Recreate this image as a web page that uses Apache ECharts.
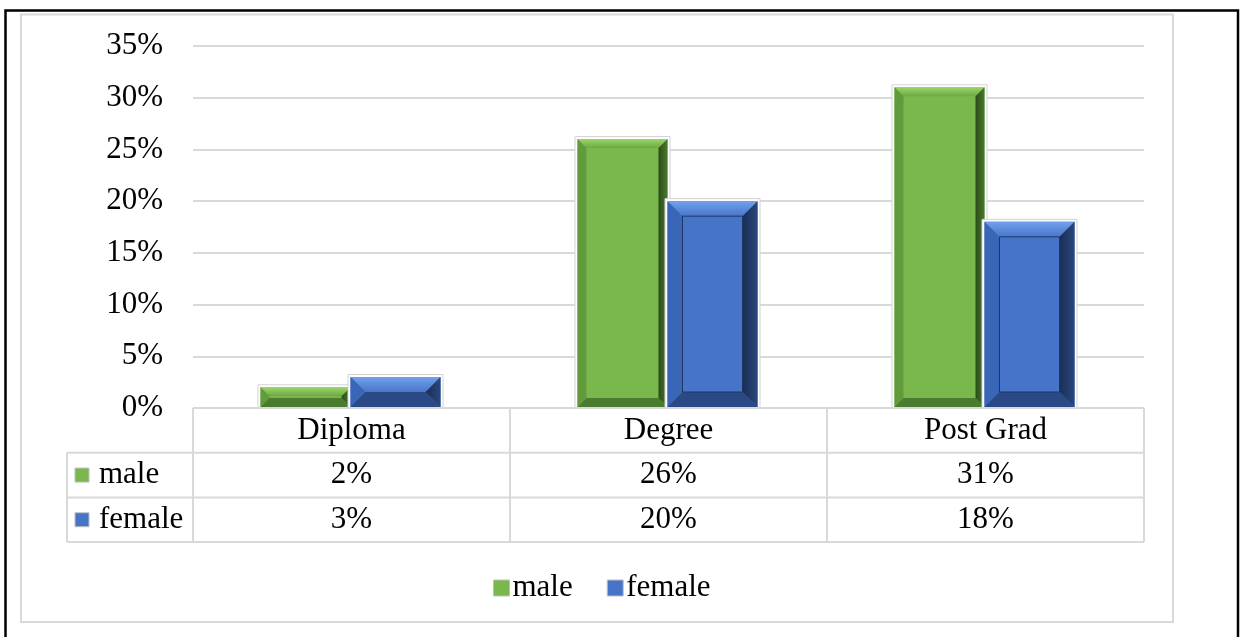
<!DOCTYPE html>
<html><head><meta charset="utf-8">
<script src="https://cdn.jsdelivr.net/npm/echarts@6/dist/echarts.min.js"></script>
<style>html,body{margin:0;padding:0;background:#fff}#c{width:1240px;height:637px}</style>
</head><body><div id="c"></div>
<script>
const categories = ['Diploma', 'Degree', 'Post Grad'];
const seriesNames = ['male', 'female'];
const maleValues = [2, 26, 31];
const femaleValues = [3, 20, 18];
const yTicks = [0, 5, 10, 15, 20, 25, 30, 35];

const FONT = '"Liberation Serif", "Times New Roman", serif';
const FS = 31;
const palettes = [
  { face: '#7ab74c', top: ['#9ad66a', '#6ea742'], left: '#619b3b', right: ['#4a7b2d', '#2c4b1a'], bottom: '#4b7b2f', bevel: 9, inner: null },
  { face: '#4674c8', top: ['#72a0ec', '#4877cb'], left: '#3a66b8', right: ['#29477d', '#1a2e55'], bottom: '#2b4984', bevel: 15, inner: '#1f3762' }
];
const seriesValues = [maleValues, femaleValues];

function lg(x, y, x2, y2, c0, c1) {
  return { type: 'linear', x: x, y: y, x2: x2, y2: y2, colorStops: [{ offset: 0, color: c0 }, { offset: 1, color: c1 }] };
}

function makeRender(si) {
  return function (params, api) {
    const ci = api.value(0), v = api.value(1);
    const c = api.coord([ci, 0]);
    const t = api.coord([ci, v]);
    const band = api.size([1, 0])[0];
    const w = band * 0.284;
    const x0 = si === 0 ? c[0] - w - 1 : c[0] - 1;
    const x1 = x0 + w;
    const y0 = t[1], y1 = c[1] - 1;
    const h = y1 - y0;
    const p = palettes[si];
    const b = Math.min(p.bevel, h / 2, w / 2);
    const ch = [];
    ch.push({ type: 'rect', shape: { x: x0 - 2.5, y: y0 - 2.5, width: w + 5, height: h + 3.5 }, style: { fill: '#ffffff', stroke: '#d2d2d2', lineWidth: 1 } });
    ch.push({ type: 'rect', shape: { x: x0, y: y0, width: w, height: h }, style: { fill: p.face } });
    ch.push({ type: 'polygon', shape: { points: [[x0, y0], [x1, y0], [x1 - b, y0 + b], [x0 + b, y0 + b]] }, style: { fill: lg(0, 0, 0, 1, p.top[0], p.top[1]) } });
    ch.push({ type: 'polygon', shape: { points: [[x0, y0], [x0 + b, y0 + b], [x0 + b, y1 - b], [x0, y1]] }, style: { fill: p.left } });
    ch.push({ type: 'polygon', shape: { points: [[x1, y0], [x1, y1], [x1 - b, y1 - b], [x1 - b, y0 + b]] }, style: { fill: lg(1, 0, 0, 0, p.right[0], p.right[1]) } });
    ch.push({ type: 'polygon', shape: { points: [[x0, y1], [x0 + b, y1 - b], [x1 - b, y1 - b], [x1, y1]] }, style: { fill: p.bottom } });
    if (p.inner && h > 2 * b + 2) {
      ch.push({ type: 'rect', shape: { x: x0 + b, y: y0 + b, width: w - 2 * b, height: h - 2 * b }, style: { fill: 'none', stroke: p.inner, lineWidth: 1 } });
    }
    return { type: 'group', children: ch };
  };
}

const chart = echarts.init(document.getElementById('c'), null, { renderer: 'canvas' });

const option = {
  animation: false,
  backgroundColor: '#ffffff',
  textStyle: { fontFamily: FONT },
  grid: { left: 193, right: 96, top: 46, bottom: 229 },
  legend: {
    data: seriesNames,
    left: 488, top: 567,
    icon: 'rect', itemWidth: 16, itemHeight: 16, itemGap: 34,
    itemStyle: { borderColor: '#bfbfbf', borderWidth: 1 },
    textStyle: { fontFamily: FONT, fontSize: FS, color: '#000', lineHeight: 32, padding: [0, 0, 0, -2] }
  },
  xAxis: {
    type: 'category', data: categories,
    axisLine: { show: false }, axisTick: { show: false },
    axisLabel: { fontFamily: FONT, fontSize: FS, color: '#000', margin: 23, verticalAlign: 'middle' }
  },
  yAxis: {
    type: 'value', min: yTicks[0], max: yTicks[yTicks.length - 1], interval: 5,
    axisLine: { show: false }, axisTick: { show: false },
    splitLine: { lineStyle: { color: '#d9d9d9', width: 2 } },
    axisLabel: { fontFamily: FONT, fontSize: FS, color: '#000', margin: 30, formatter: '{value}%' }
  },
  series: seriesNames.map((n, si) => ({
    name: n, type: 'custom',
    itemStyle: { color: palettes[si].face },
    renderItem: makeRender(si),
    encode: { x: 0, y: 1 },
    data: seriesValues[si].map((v, i) => [i, v])
  }))
};
chart.setOption(option);

// Table & frames
const cx = categories.map((c, i) => chart.convertToPixel({ xAxisIndex: 0 }, i));
const band = cx[1] - cx[0];
const yBase = chart.convertToPixel({ yAxisIndex: 0 }, 0);
const left0 = cx[0] - band / 2;
const right0 = cx[cx.length - 1] + band / 2;
const rowH = 44.7;
const tableLeft = 67;
const lineStyle = { stroke: '#d9d9d9', lineWidth: 2 };
const g = [];
g.push({ type: 'rect', shape: { x: 5.5, y: 10.5, width: 1232.5, height: 640 }, style: { fill: 'none', stroke: '#000', lineWidth: 2.5 }, z: 100 });
g.push({ type: 'rect', shape: { x: 21, y: 14.5, width: 1152, height: 607.5 }, style: { fill: 'none', stroke: '#d9d9d9', lineWidth: 2 }, z: 100 });
g.push({ type: 'line', shape: { x1: left0, y1: yBase, x2: right0, y2: yBase }, style: lineStyle, z: 100 });
for (let r = 1; r <= seriesNames.length; r++) {
  const y = yBase + rowH * r;
  g.push({ type: 'line', shape: { x1: tableLeft, y1: y, x2: right0, y2: y }, style: lineStyle, z: 100 });
}
const tableBottom = yBase + rowH * (seriesNames.length + 1);
g.push({ type: 'line', shape: { x1: tableLeft, y1: tableBottom, x2: right0, y2: tableBottom }, style: lineStyle, z: 100 });
g.push({ type: 'line', shape: { x1: tableLeft, y1: yBase + rowH, x2: tableLeft, y2: tableBottom }, style: lineStyle, z: 100 });
for (let i = 0; i <= categories.length; i++) {
  const x = left0 + band * i;
  g.push({ type: 'line', shape: { x1: x, y1: yBase, x2: x, y2: tableBottom }, style: lineStyle, z: 100 });
}
seriesNames.forEach((n, si) => {
  const yc = yBase + rowH * (si + 1.5);
  g.push({ type: 'rect', shape: { x: 75, y: yc - 7, width: 14, height: 14 }, style: { fill: palettes[si].face, stroke: '#bfbfbf', lineWidth: 1 }, z: 100 });
  g.push({ type: 'text', x: 99, y: yc, style: { text: n, font: FS + 'px ' + FONT, fill: '#000', align: 'left', verticalAlign: 'middle' }, z: 100 });
  seriesValues[si].forEach((v, i) => {
    g.push({ type: 'text', x: cx[i], y: yc, style: { text: v + '%', font: FS + 'px ' + FONT, fill: '#000', align: 'center', verticalAlign: 'middle' }, z: 100 });
  });
});
chart.setOption({ graphic: g });
</script>
</body></html>
